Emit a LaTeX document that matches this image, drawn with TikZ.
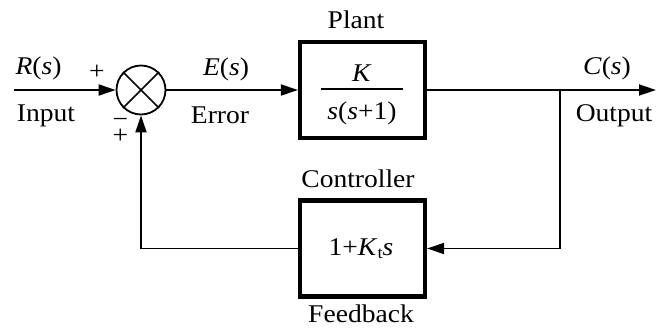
\documentclass[tikz,border=0pt]{standalone}
\usepackage{fontspec}
\setmainfont{Liberation Serif}[FakeStretch=1.08]
\usetikzlibrary{arrows.meta}
\begin{document}
\begin{tikzpicture}[x=1pt,y=1pt,
  lbl/.style={inner sep=0pt,anchor=base,font=\fontsize{25.5}{28}\selectfont},
  blockbox/.style={draw,line width=4.2pt,minimum width=125pt,minimum height=96pt,inner sep=0pt},
  sig/.style={line width=1.8pt},
  arr/.style={sig,-{Triangle[length=17pt,width=11pt]}},
  sumnode/.style={draw,circle,line width=1.8pt,minimum size=49pt,inner sep=0pt}]
\useasboundingbox (0,0) rectangle (659,-334);
% nodes
\node[sumnode] (sum) at (141,-90) {};
\draw[line width=1.6pt] (sum.45) -- (sum.225) (sum.135) -- (sum.315);
\node[blockbox] (plant) at (362.5,-90) {};
\node[blockbox] (ctrl) at (362.5,-248.5) {};
\coordinate (in) at (14,-90);
\coordinate (out) at (656,-90);
\coordinate (br) at (560,-90);
\coordinate (brd) at (560,-248.5);
\coordinate (fbl) at (sum.south |- ctrl.west);
% connectors
\draw[arr] (in) -- (sum.west);
\draw[arr] (sum.east) -- (plant.west);
\draw[arr] (plant.east) -- (out);
\draw[arr] (br) -- (brd) -- (ctrl.east);
\draw[arr] (ctrl.west) -- (fbl) -- (sum.south);
% labels
\node[lbl] (rs) at (38.5,-75) {\textit{R}(\textit{s})};
\node[lbl,anchor=center] (plus1) at (97,-72) {+};
\node[lbl] (inp) at (46,-122) {Input};
\node[lbl,anchor=center,align=center,font=\fontsize{25.5}{12}\selectfont] (mp) at (120.5,-131) {\char"2212\\+};
\node[lbl] (es) at (226,-76) {\textit{E}(\textit{s})};
\node[lbl] (err) at (220,-124) {Error};
\node[lbl] (plt) at (356,-29) {Plant};
\node[lbl] (kk) at (362,-82) {\textit{K}};
\coordinate (fb1) at (321,-89);
\coordinate (fb2) at (403,-89);
\draw[line width=1.2pt] (fb1) -- (fb2);
\node[lbl] (den) at (362,-120) {\textit{s}(\textit{s}+1)};
\node[lbl] (cs) at (607,-75) {\textit{C}(\textit{s})};
\node[lbl] (outp) at (614,-122) {Output};
\node[lbl] (ctl) at (358,-187) {Controller};
\node[lbl] (kt) at (361,-255) {1+\textit{K}\raisebox{-3pt}{\fontsize{17}{18}\selectfont t}\textit{s}};
\node[lbl] (fbk) at (361,-322) {Feedback};
\end{tikzpicture}
\end{document}
